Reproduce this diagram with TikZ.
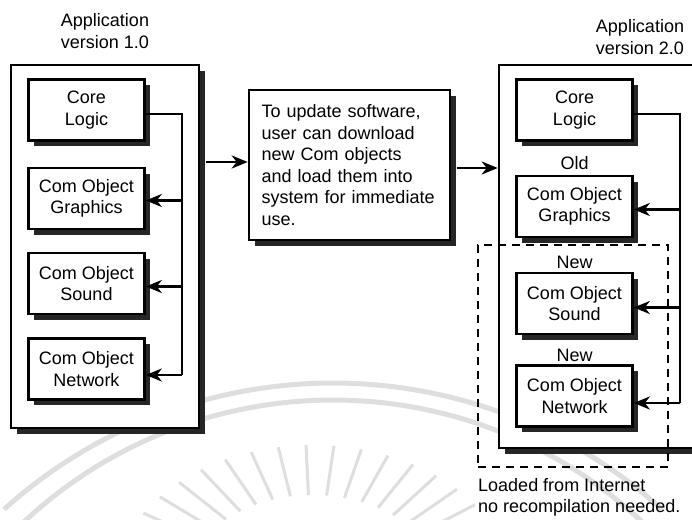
\documentclass[tikz,border=0pt]{standalone}
\usepackage{fontspec}
\setmainfont{Liberation Sans}
\usetikzlibrary{arrows.meta,shadows}

\begin{document}
\begin{tikzpicture}[x=1pt,y=-1pt,
  txt/.style={font=\fontsize{18}{21.5}\selectfont},
  shadowed/.style={drop shadow={shadow xshift=5.5pt,shadow yshift=-5.5pt,fill=black!85,opacity=1}},
  appbox/.style={draw,line width=2.6pt,fill=white,shadowed,inner sep=0pt},
  compbox/.style={draw,line width=2.6pt,fill=white,shadowed,inner sep=0pt,
    minimum width=116pt,minimum height=61pt,align=center,txt},
  arr/.style={-{Stealth[length=16pt,width=13pt,inset=5pt]},line width=2.6pt},
  wire/.style={line width=2.6pt},
  grp/.style={draw,dashed,dash pattern=on 8pt off 6pt,line width=2.6pt},
  wm/.style={draw=black!13,line width=5pt},
]
\path[use as bounding box,clip] (0,0) rectangle (692,519);

% faint background emblem
\draw[wm] (333,874.5) ++(228:491.5) arc[start angle=228,end angle=312,radius=491.5];
\draw[wm] (333,853) ++(226:453) arc[start angle=226,end angle=314,radius=453];
\foreach \a in {-12,-20,...,-168}
  \draw[wm,line width=3pt] (313,590) ++({200*cos(\a)},{145*sin(\a)}) -- ++({-70*cos(\a)},{-50*sin(\a)});

% application frames
\node[appbox,minimum width=188pt,minimum height=363pt] (app1) at (105,246.5) {};
\node[appbox,minimum width=220pt,minimum height=383pt] (app2) at (609,256.5) {};

\node[txt,align=center] (t1) at (105,31) {Application\\version 1.0};
\node[txt,align=center] (t2) at (640,37) {Application\\version 2.0};

% components of version 1.0
\node[compbox] (coreL) at (86.5,110)   {Core\\Logic};
\node[compbox] (grL)   at (86.5,198.5) {Com Object\\Graphics};
\node[compbox] (sndL)  at (86.5,283.5) {Com Object\\Sound};
\node[compbox] (netL)  at (86.5,369)   {Com Object\\Network};

% update note
\node[appbox,txt,minimum width=201pt,minimum height=150pt,text width=176pt,align=left]
  (mid) at (349.5,165) {To update software,\\user can download\\new Com objects\\and load them into\\system for immediate\\use.};

% components of version 2.0
\node[compbox] (coreR) at (574.5,110)   {Core\\Logic};
\node[compbox] (grR)   at (574.5,206.5) {Com Object\\Graphics};
\node[compbox] (sndR)  at (574.5,303.5) {Com Object\\Sound};
\node[compbox] (netR)  at (574.5,396)   {Com Object\\Network};

\node[txt] (old)  at (574.5,163) {Old};
\node[txt] (new1) at (574.5,262) {New};
\node[txt] (new2) at (574.5,355) {New};

% downloaded group
\node[grp,minimum width=190pt,minimum height=222pt,inner sep=0pt] (dl) at (573,356) {};
\node[txt,anchor=north west,align=left,inner sep=0pt] (dlnote) at (478,478)
  {Loaded from Internet\\no recompilation needed.};

% buses
\coordinate (bl) at (182,0);
\coordinate (br) at (680,0);
\draw[wire] ([yshift=-4pt]coreL.east) -- ([yshift=-4pt]coreL.east -| bl) -- ([yshift=-6pt]netL.east -| bl);
\draw[arr] ([yshift=-6pt]netL.east -| bl) -- ([yshift=-6pt]netL.east);
\draw[arr] ([yshift=-2pt]grL.east -| bl) -- ([yshift=-2pt]grL.east);
\draw[arr] ([yshift=-3pt]sndL.east -| bl) -- ([yshift=-3pt]sndL.east);

\draw[wire] ([yshift=-4pt]coreR.east) -- ([yshift=-4pt]coreR.east -| br) -- ([yshift=-7pt]netR.east -| br);
\draw[arr] ([yshift=-7pt]netR.east -| br) -- ([yshift=-7pt]netR.east);
\draw[arr] ([yshift=-3pt]grR.east -| br) -- ([yshift=-3pt]grR.east);
\draw[arr] ([yshift=-4pt]sndR.east -| br) -- ([yshift=-4pt]sndR.east);

% flow between versions
\draw[arr] ([yshift=3pt]mid.west -| app1.east) ++(5.5pt,0) -- ([yshift=3pt]mid.west);
\draw[arr] ([yshift=-3pt]mid.east) ++(5.5pt,0) -- ([yshift=-3pt]mid.east -| app2.west);
\end{tikzpicture}
\end{document}
